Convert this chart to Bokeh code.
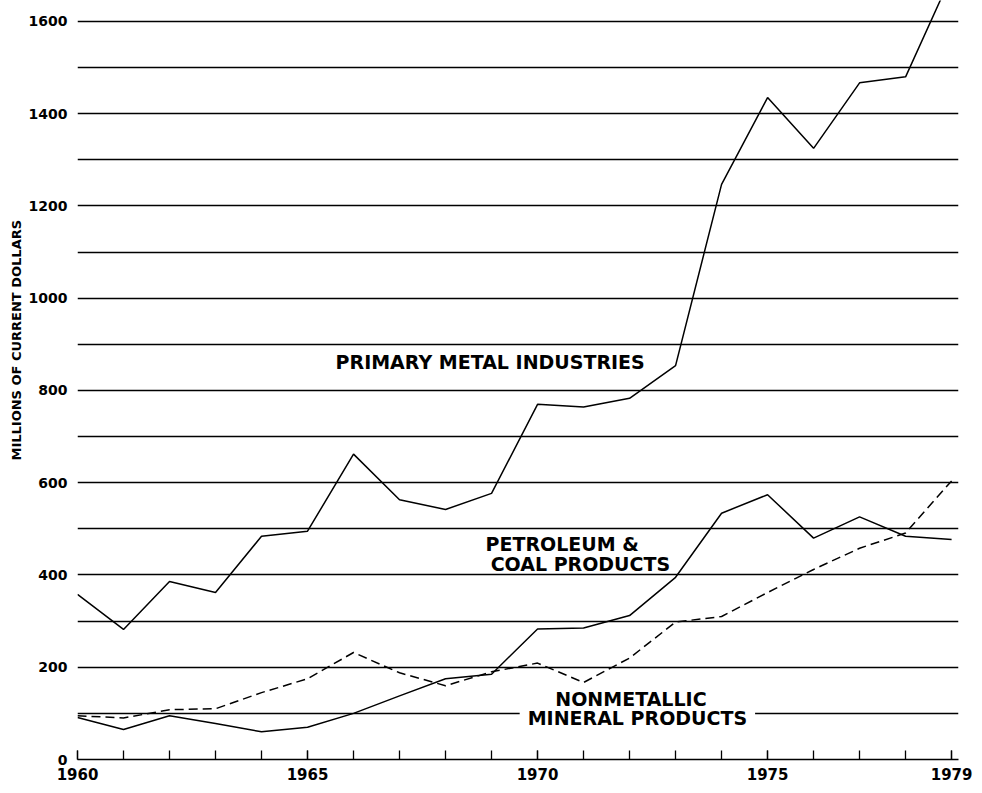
from bokeh.plotting import figure
from bokeh.models import Range1d, FixedTicker, Label, ColumnDataSource, Title
from bokeh.embed import file_html
from bokeh.resources import INLINE

# ---- data ----
years = list(range(1960, 1980))
primary_metal = [358, 282, 386, 362, 484, 495, 662, 563, 542, 577,
                 770, 764, 783, 854, 1247, 1435, 1325, 1467, 1480, 1700]
petroleum_coal = [91, 65, 95, 78, 60, 70, 100, 138, 175, 185,
                  283, 285, 312, 395, 534, 574, 480, 526, 484, 477]
nonmetallic = [95, 90, 108, 110, 145, 175, 232, 188, 160, 190,
               209, 167, 220, 298, 310, 362, 412, 458, 491, 604]

x_label_years = [1960, 1965, 1970, 1975, 1979]
y_label_values = [0, 200, 400, 600, 800, 1000, 1200, 1400, 1600]
grid_values = list(range(100, 1700, 100))

FONT = "DejaVu Sans"

p = figure(width=978, height=789, output_backend="svg", toolbar_location=None,
           x_range=Range1d(1960, 1979.15), y_range=Range1d(0, 1645.5),
           min_border_left=77, min_border_right=20, min_border_top=0,
           min_border_bottom=30)
p.outline_line_color = None
p.background_fill_color = "white"

src = ColumnDataSource(dict(year=years, pm=primary_metal, pc=petroleum_coal, nm=nonmetallic))
p.line("year", "pm", source=src, line_color="black", line_width=1.5)
p.line("year", "pc", source=src, line_color="black", line_width=1.5)
p.line("year", "nm", source=src, line_color="black", line_width=1.5, line_dash="9 5")

# grid
p.xgrid.grid_line_color = None
p.ygrid.ticker = FixedTicker(ticks=grid_values)
p.ygrid.grid_line_color = "black"
p.ygrid.grid_line_width = 1.3

# x axis
xa = p.xaxis[0]
xa.ticker = FixedTicker(ticks=x_label_years, minor_ticks=years)
xa.axis_line_color = "black"
xa.axis_line_width = 1.6
xa.major_tick_in = 9
xa.major_tick_out = 0
xa.minor_tick_in = 9
xa.minor_tick_out = 0
xa.major_tick_line_color = "black"
xa.minor_tick_line_color = "black"
xa.major_tick_line_width = 1.3
xa.minor_tick_line_width = 1.3
xa.major_label_text_font = FONT
xa.major_label_text_font_style = "bold"
xa.major_label_text_font_size = "15px"
xa.major_label_text_color = "black"
xa.major_label_standoff = 8

# y axis
ya = p.yaxis[0]
ya.ticker = FixedTicker(ticks=y_label_values)
ya.axis_line_color = None
ya.major_tick_line_color = None
ya.minor_tick_line_color = None
ya.major_label_text_font = FONT
ya.major_label_text_font_style = "bold"
ya.major_label_text_font_size = "14px"
ya.major_label_text_color = "black"
ya.major_label_standoff = 4

# y axis title
p.add_layout(Title(text="MILLIONS OF CURRENT DOLLARS", align="left", offset=299,
                   text_font=FONT, text_font_style="bold", text_font_size="13px",
                   text_color="black", standoff=4), "left")

def lab(x, y, t, align="left", bg=False):
    kw = {}
    if bg:
        kw = dict(background_fill_color="white", padding=8)
    p.add_layout(Label(x=x, y=y, text=t, text_align=align, text_baseline="middle",
                       text_font=FONT, text_font_style="bold", text_font_size="19px",
                       text_color="black", **kw))

lab(1965.61, 861, "PRIMARY METAL INDUSTRIES")
lab(1968.87, 468, "PETROLEUM &")
lab(1968.98, 423, "COAL PRODUCTS")
lab(1972.17, 89, "MINERAL PRODUCTS", align="center", bg=True)
lab(1972.03, 132, "NONMETALLIC", align="center")

open("out.html", "w").write(file_html(p, INLINE))
